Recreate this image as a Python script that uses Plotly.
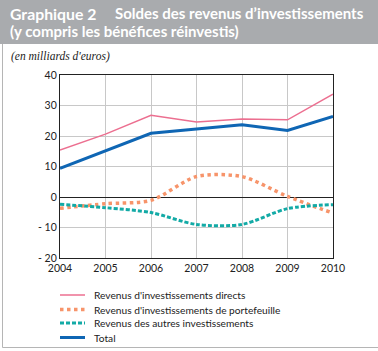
import plotly.graph_objects as go

years = [2004, 2005, 2006, 2007, 2008, 2009, 2010]
directs = [15.4, 20.6, 26.8, 24.6, 25.6, 25.3, 33.7]
portefeuille = [-3.7, -2.2, -1.1, 6.7, 6.7, 0.2, -5.3]
autres = [-2.4, -3.5, -5.1, -9.0, -9.0, -3.8, -2.5]
total = [9.4, 15.1, 20.9, 22.3, 23.7, 21.8, 26.4]
ytickvals = [-20, -10, 0, 10, 20, 30, 40]
yticktext = ["-\u00a020", "-\u00a010", "0", "10", "20", "30", "40"]
names = ["Revenus d'investissements directs", "Revenus d'investissements de portefeuille",
         "Revenus des autres investissements", "Total"]

FONT = "Lato, Open Sans, sans-serif"

styles = [
    dict(color="#ec6f90", width=1.5),
    dict(color="#f7946a", width=3.5, dash="dot"),
    dict(color="#13aaa6", width=3, dash="4px,2px"),
    dict(color="#0f66b4", width=3),
]

fig = go.Figure()
fig.add_trace(go.Scatter(x=years, y=directs, mode="lines", name=names[0], line=styles[0]))
fig.add_trace(go.Scatter(x=years, y=portefeuille, mode="lines", name=names[1],
                         line=dict(**styles[1], shape="spline", smoothing=0.8)))
fig.add_trace(go.Scatter(x=years, y=autres, mode="lines", name=names[2],
                         line=dict(**styles[2], shape="spline", smoothing=0.8)))
fig.add_trace(go.Scatter(x=years, y=total, mode="lines", name=names[3], line=styles[3]))

L, R, T, B = 60, 45, 75, 93
W, H = 378, 351
pw, ph = W - L - R, H - T - B

def px(xp):
    return (xp - L) / pw

def py(yp):
    return (H - B - yp) / ph

shapes = [
    dict(type="rect", xref="paper", yref="paper", x0=px(0), x1=px(W), y0=py(44), y1=py(0),
         fillcolor="#a9abae", line=dict(width=0), layer="below"),
    dict(type="line", xref="paper", yref="paper", x0=px(2.5), x1=px(2.5), y0=py(44), y1=py(347.5),
         line=dict(color="#b5b5b5", width=1)),
    dict(type="line", xref="paper", yref="paper", x0=px(2.5), x1=px(W), y0=py(347.5), y1=py(347.5),
         line=dict(color="#b5b5b5", width=1)),
]

TS = 15
annotations = [
    dict(text="<b>Graphique 2</b>", xref="paper", yref="paper",
         x=px(8), y=py(13), xanchor="left", yanchor="middle", showarrow=False,
         font=dict(family=FONT, size=TS + 0.8, color="white")),
    dict(text="<b>Soldes des revenus d\u2019investissements</b>", xref="paper", yref="paper",
         x=px(113), y=py(13), xanchor="left", yanchor="middle", showarrow=False,
         font=dict(family=FONT, size=TS, color="white")),
    dict(text="<b>(y compris les bénéfices réinvestis)</b>", xref="paper", yref="paper",
         x=px(8), y=py(31), xanchor="left", yanchor="middle", showarrow=False,
         font=dict(family=FONT, size=TS, color="white")),
    dict(text="<i>(en milliards d'euros)</i>", xref="paper", yref="paper",
         x=px(9), y=py(56), xanchor="left", yanchor="middle", showarrow=False,
         font=dict(family="Liberation Serif", size=11.5, color="#222")),
]

leg_y = [295, 309.5, 323, 337.5]
for name, st, ly in zip(names, styles, leg_y):
    shapes.append(dict(type="line", xref="paper", yref="paper", x0=px(60), x1=px(85), y0=py(ly), y1=py(ly),
                       line=st))
    annotations.append(dict(text=name, xref="paper", yref="paper", x=px(92), y=py(ly),
                            xanchor="left", yanchor="middle", showarrow=False,
                            font=dict(family=FONT, size=10.2, color="#222")))

fig.update_layout(
    width=W, height=H, margin=dict(l=L, r=R, t=T, b=B, autoexpand=False),
    paper_bgcolor="white", plot_bgcolor="white",
    font=dict(family=FONT, size=10.5, color="#222"),
    shapes=shapes, annotations=annotations,
    showlegend=False,
)
fig.update_xaxes(range=[2004, 2010], tickvals=years, showgrid=True, gridcolor="#c8c8c8", gridwidth=1,
                 showline=True, linecolor="#222", linewidth=1.2, mirror=True, ticks="", zeroline=False,
                 tickfont=dict(family=FONT, size=10.5, color="#222"))
fig.update_yaxes(range=[-20, 40], tickvals=ytickvals, ticktext=yticktext, showgrid=True, gridcolor="#c8c8c8",
                 gridwidth=1, showline=True, linecolor="#222", linewidth=1.2, mirror=True, ticks="",
                 zeroline=True, zerolinecolor="#222", zerolinewidth=1.2,
                 tickfont=dict(family=FONT, size=10.5, color="#222"))

fig.write_html("out.html")
